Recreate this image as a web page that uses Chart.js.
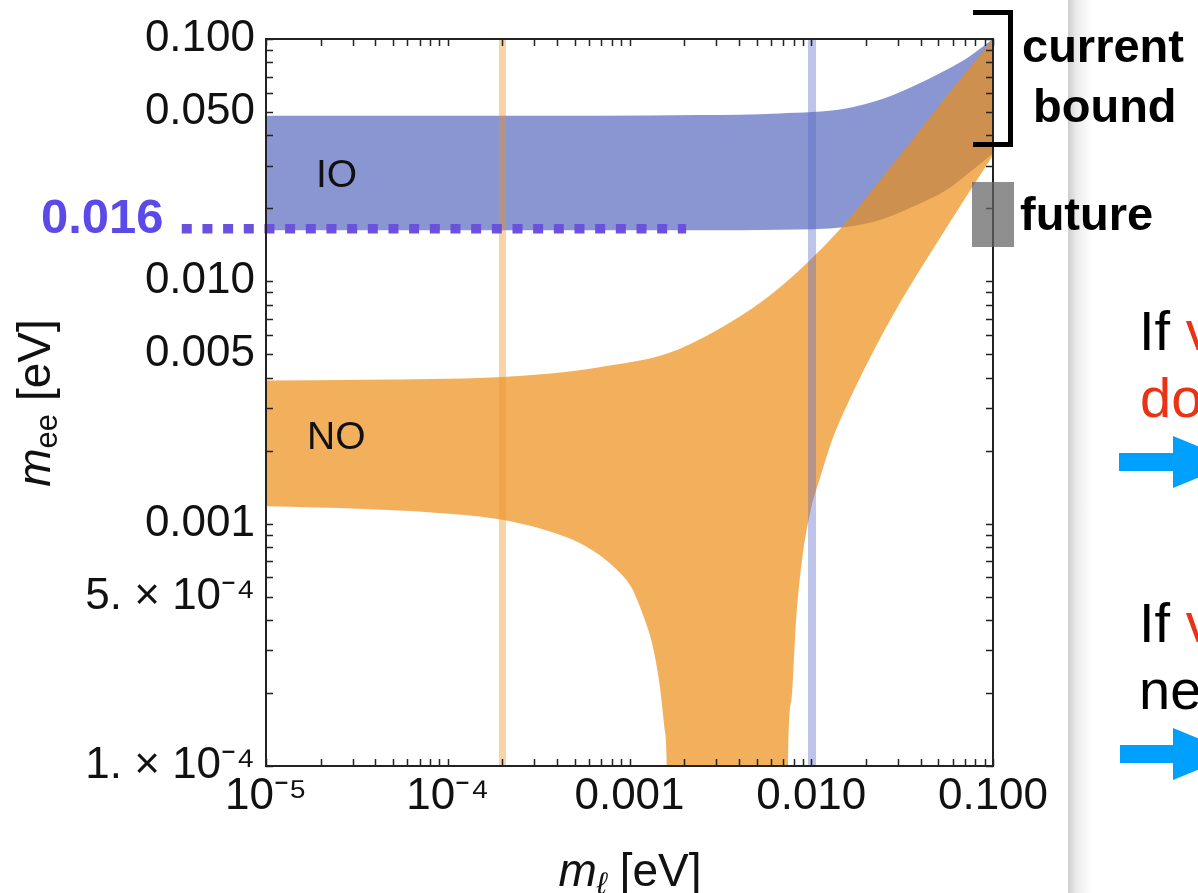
<!DOCTYPE html>
<html>
<head>
<meta charset="utf-8">
<script src="https://cdn.jsdelivr.net/npm/chart.js@4.4.1/dist/chart.umd.min.js"></script>
<style>
  html, body { margin: 0; padding: 0; background: #fff; }
  body { width: 1198px; height: 893px; overflow: hidden; position: relative; }
  #wrap { position: absolute; left: 0; top: 0; width: 1198px; height: 893px; }
  #overlay { position: absolute; left: 0; top: 0; pointer-events: none; font-family: "Liberation Sans", Arial, sans-serif; }
</style>
</head>
<body>
<div id="wrap"><canvas id="diagram" width="1198" height="893"></canvas></div>

<svg id="overlay" width="1198" height="893">
  <defs>
    <linearGradient id="shade" x1="0" x2="1" y1="0" y2="0">
      <stop offset="0" stop-color="#cdcdcd"/>
      <stop offset="0.35" stop-color="#ebebeb"/>
      <stop offset="1" stop-color="#ffffff"/>
    </linearGradient>
  </defs>

  <!-- edge of the next slide -->
  <rect x="1068" y="0" width="24" height="893" fill="url(#shade)"/>

  <!-- band names -->
  <text x="316" y="187" font-size="39" fill="#111">IO</text>
  <text x="307" y="449" font-size="39" fill="#111">NO</text>

  <!-- 0.016 marker -->
  <text x="41" y="233" font-size="49" font-weight="bold" fill="#5c4ae8">0.016</text>

  <!-- axis titles -->
  <text transform="translate(50,403) rotate(-90)" text-anchor="middle" font-size="46" fill="#111"><tspan font-style="italic">m</tspan><tspan font-size="31" dy="7">ee</tspan><tspan dy="-7"> [eV]</tspan></text>
  <text x="630" y="886" text-anchor="middle" font-size="46" fill="#111"><tspan font-style="italic">m</tspan><tspan font-size="31" dy="8" font-style="italic">ℓ</tspan><tspan dy="-8"> [eV]</tspan></text>

  <!-- current bound / future -->
  <path d="M973,12.5 H1010.5 V144.5 H973" fill="none" stroke="#000" stroke-width="5"/>
  <text x="1022" y="62" font-size="47" font-weight="bold" fill="#000">current</text>
  <text x="1033" y="122" font-size="47" font-weight="bold" fill="#000">bound</text>
  <rect x="972" y="182" width="42" height="65" fill="rgba(100,100,100,0.72)"/>
  <text x="1020" y="230" font-size="47" font-weight="bold" fill="#000">future</text>

  <!-- next slide text -->
  <text x="1139" y="350" font-size="56" fill="#000">If <tspan fill="#e83414">v</tspan></text>
  <text x="1140" y="417" font-size="56" fill="#e83414">do</text>
  <polygon points="1119,453 1173,453 1173,436 1237,462 1173,488 1173,471 1119,471" fill="#00a0ff"/>
  <text x="1139" y="642" font-size="56" fill="#000">If <tspan fill="#e83414">v</tspan></text>
  <text x="1139" y="709" font-size="56" fill="#000">ne</text>
  <polygon points="1120,745 1173,745 1173,728 1237,754 1173,780 1173,763 1120,763" fill="#00a0ff"/>
</svg>

<script>
// m_ee band edges [eV] against the lightest mass m_l [eV]
const ioUpperX = [1e-5, 6.84e-4, 2.424e-3, 6.672e-3, 0.01557, 0.02363, 0.03589, 0.05518, 0.07378, 0.1];
const ioUpperY = [0.04819, 0.0482, 0.04853, 0.04932, 0.05171, 0.05596, 0.06351, 0.07443, 0.08452, 0.1];
const ioLowerX = [1e-5, 2.424e-3, 6.672e-3, 0.01557, 0.02363, 0.03589, 0.05518, 0.07101, 0.1];
const ioLowerY = [0.01624, 0.01624, 0.01632, 0.01676, 0.01787, 0.02028, 0.02377, 0.02742, 0.03371];

const noUpperX = [1e-5, 3.5e-5, 1.883e-4, 3.544e-4, 6.84e-4, 1.597e-3, 3.006e-3, 5.657e-3, 8.594e-3, 0.01557, 0.02363, 0.03589, 0.05518, 0.1];
const noUpperY = [3.898e-3, 3.924e-3, 4.022e-3, 4.155e-3, 4.424e-3, 5.025e-3, 6.272e-3, 8.508e-3, 0.0111, 0.01753, 0.02589, 0.03825, 0.05776, 0.1];
// lower edge drops to zero between ~1.6e-3 and ~7.4e-3 (1e-5 = below the frame)
const noLowerX = [1e-5, 3.5e-5, 8.17e-5, 1.883e-4, 3.544e-4, 5.449e-4, 8.27e-4, 1.026e-3, 1.107e-3, 1.256e-3, 1.321e-3, 1.462e-3, 1.557e-3, 1.603e-3, 1.65e-3,
                  7.4e-3, 7.47e-3, 7.77e-3, 8.27e-3, 8.92e-3, 0.01, 0.01107, 0.013, 0.01617, 0.02083, 0.03045, 0.04177, 0.0552, 0.0738, 0.1];
const noLowerY = [1.179e-3, 1.15e-3, 1.113e-3, 1.046e-3, 9.356e-4, 8.243e-4, 6.6e-4, 5.454e-4, 4.806e-4, 3.727e-4, 3.285e-4, 2.182e-4, 1.436e-4, 1e-4, 1e-5,
                  1e-5, 1e-4, 1.856e-4, 4.09e-4, 7.17e-4, 1.164e-3, 1.506e-3, 2.203e-3, 3.224e-3, 4.761e-3, 8.035e-3, 0.01187, 0.01656, 0.02332, 0.03317];

// vertical marker lines and the dotted 0.016 guide
const markerOrangeX = [2e-4, 2e-4];
const markerBlueX = [0.0101, 0.0101];
const markerY = [1e-4, 0.1];
const guideX = [3.44e-6, 2.05e-3];
const guideY = [0.0165, 0.0165];

// tick labels
const xLabelValues = [1e-5, 1e-4, 1e-3, 1e-2, 1e-1];
const xLabelTexts = ["10⁻⁵", "10⁻⁴", "0.001", "0.010", "0.100"];
const yLabelValues = [1e-4, 5e-4, 1e-3, 5e-3, 1e-2, 5e-2, 1e-1];
const yLabelTexts = ["1. × 10⁻⁴", "5. × 10⁻⁴", "0.001", "0.005", "0.010", "0.050", "0.100"];

const pts = (xs, ys) => xs.map((x, i) => ({ x: x, y: ys[i] }));

function labelFor(v, values, texts) {
  const i = values.findIndex((w) => Math.abs(Math.log10(v / w)) < 1e-6);
  return i < 0 ? "" : texts[i];
}

// 1..9 x 10^k ticks, Mathematica style
function decadeTicks(lo, hi) {
  const out = [];
  for (let k = Math.round(Math.log10(lo)); k < Math.round(Math.log10(hi)); k++) {
    for (let m = 1; m < 10; m++) out.push(m * Math.pow(10, k));
  }
  out.push(hi);
  return out;
}

// inward ticks on all four sides + frame
const frameTicks = {
  id: "frameTicks",
  afterDatasetsDraw(chart) {
    const { ctx, chartArea: a, scales } = chart;
    const len = 7;
    ctx.save();
    ctx.strokeStyle = "#222";
    ctx.lineWidth = 1.5;
    ctx.beginPath();
    scales.x.ticks.forEach((t) => {
      const px = Math.round(scales.x.getPixelForValue(t.value)) + 0.5;
      ctx.moveTo(px, a.bottom); ctx.lineTo(px, a.bottom - len);
      ctx.moveTo(px, a.top); ctx.lineTo(px, a.top + len);
    });
    scales.y.ticks.forEach((t) => {
      const py = Math.round(scales.y.getPixelForValue(t.value)) + 0.5;
      ctx.moveTo(a.left, py); ctx.lineTo(a.left + len, py);
      ctx.moveTo(a.right, py); ctx.lineTo(a.right - len, py);
    });
    ctx.stroke();
    ctx.lineWidth = 2;
    ctx.strokeRect(a.left, a.top, a.right - a.left, a.bottom - a.top);
    ctx.restore();
  },
};

const band = { pointRadius: 0, borderWidth: 0, borderColor: "transparent", cubicInterpolationMode: "monotone" };

const datasets = [
  {
    label: "0.016",
    data: pts(guideX, guideY),
    borderColor: "#6c50de",
    borderWidth: 9.5,
    borderDash: [10, 10.67],
    borderCapStyle: "butt",
    pointRadius: 0,
    fill: false,
    clip: false,
    order: 1,
  },
  { label: "m_l = 2e-4", data: pts(markerOrangeX, markerY), borderColor: "rgba(236,150,40,0.42)", borderWidth: 7, pointRadius: 0, fill: false, order: 2 },
  { label: "m_l = 0.01", data: pts(markerBlueX, markerY), borderColor: "rgba(90,105,200,0.4)", borderWidth: 8, pointRadius: 0, fill: false, order: 2 },
  { ...band, label: "NO max", data: pts(noUpperX, noUpperY), fill: "+1", backgroundColor: "rgba(236,140,20,0.69)", order: 3 },
  { ...band, label: "NO min", data: pts(noLowerX, noLowerY), fill: false, order: 3 },
  { ...band, label: "IO max", data: pts(ioUpperX, ioUpperY), fill: "+1", backgroundColor: "rgba(60,80,180,0.6)", order: 5 },
  { ...band, label: "IO min", data: pts(ioLowerX, ioLowerY), fill: false, order: 5 },
];

const tickFont = { family: "Liberation Sans", size: 44 };

const config = {
  type: "line",
  data: { datasets: datasets },
  options: {
    responsive: false,
    animation: false,
    events: [],
    devicePixelRatio: 1,
    layout: { padding: { left: 0, top: 39, right: 205, bottom: 0 } },
    plugins: { legend: { display: false }, tooltip: { enabled: false } },
    scales: {
      x: {
        type: "logarithmic",
        min: 1e-5,
        max: 0.1,
        grid: { display: false, drawTicks: false },
        border: { display: false },
        ticks: {
          autoSkip: false,
          maxRotation: 0,
          padding: 4,
          color: "#111",
          font: tickFont,
          callback: (v) => labelFor(v, xLabelValues, xLabelTexts),
        },
        afterBuildTicks: (s) => { s.ticks = decadeTicks(1e-5, 0.1).map((v) => ({ value: v })); },
        afterFit: (s) => { s.height = 127; },
      },
      y: {
        type: "logarithmic",
        min: 1e-4,
        max: 0.1,
        grid: { display: false, drawTicks: false },
        border: { display: false },
        ticks: {
          autoSkip: false,
          padding: 11,
          color: "#111",
          font: tickFont,
          callback: (v) => labelFor(v, yLabelValues, yLabelTexts),
        },
        afterBuildTicks: (s) => { s.ticks = decadeTicks(1e-4, 0.1).map((v) => ({ value: v })); },
        afterFit: (s) => { s.width = 266; },
      },
    },
  },
  plugins: [frameTicks],
};

const canvas = document.getElementById("diagram");
const chart = new Chart(canvas, config);
</script>
</body>
</html>
